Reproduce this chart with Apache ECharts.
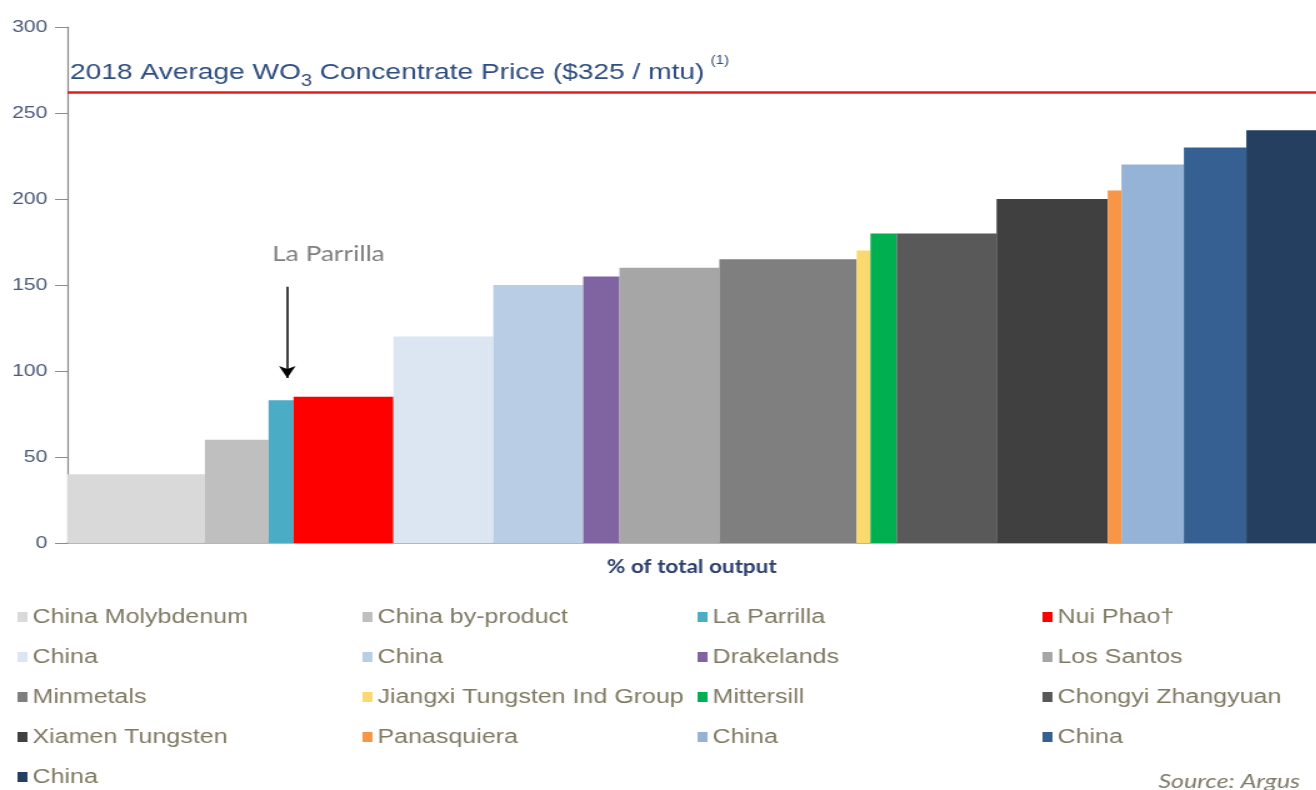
<!DOCTYPE html>
<html>
<head>
<meta charset="utf-8">
<script src="https://cdn.jsdelivr.net/npm/echarts@6/dist/echarts.min.js"></script>
<style>
  html, body { margin: 0; padding: 0; background: #ffffff; }
  #wrap { width: 1316px; height: 790px; overflow: hidden; background: #ffffff; }
  #chart { width: 1053px; height: 790px; transform: scaleX(1.25); transform-origin: 0 0; }
</style>
</head>
<body>
<div id="wrap"><div id="chart"></div></div>
<script>
// ---- data ----
const producers = [
  'China Molybdenum', 'China by-product', 'La Parrilla', 'Nui Phao\u2020',
  'China', 'China', 'Drakelands', 'Los Santos',
  'Minmetals', 'Jiangxi Tungsten Ind Group', 'Mittersill', 'Chongyi Zhangyuan',
  'Xiamen Tungsten', 'Panasquiera', 'China', 'China',
  'China'
];
// share of total output (% of x axis)
const outputShare = [11.0, 5.1, 2.0, 8.0, 8.0, 7.2, 2.9, 8.0, 11.0, 1.1, 2.1, 8.0, 8.9, 1.1, 5.0, 5.0, 5.6];
// cash cost (US$/mtu)
const costs = [40, 60, 83, 85, 120, 150, 155, 160, 165, 170, 180, 180, 200, 205, 220, 230, 240];
const colors = [
  '#d9d9d9', '#bfbfbf', '#4bacc6', '#ff0000',
  '#dce6f2', '#b9cde5', '#8064a2', '#a6a6a6',
  '#7f7f7f', '#fcd96e', '#00b050', '#595959',
  '#404040', '#f79646', '#95b3d7', '#366092',
  '#243f60'
];
const averagePrice = 262;           // red reference line (y value)
const yTicks = [0, 50, 100, 150, 200, 250, 300];
const annotation = { label: 'La Parrilla', textAt: [20.9, 168], arrowFrom: [17.6, 149], arrowTo: [17.6, 96] };

// ---- build series ----
const ids = producers.map((p, i) => p + '#' + i);
let cum = 0;
const series = producers.map((p, i) => {
  const start = cum;
  cum += outputShare[i];
  return {
    type: 'custom',
    name: ids[i],
    itemStyle: { color: colors[i] },
    encode: { x: [0, 1], y: 2 },
    data: [[start, cum, costs[i]]],
    renderItem: function (params, api) {
      const tl = api.coord([api.value(0), api.value(2)]);
      const br = api.coord([api.value(1), 0]);
      return {
        type: 'rect',
        shape: { x: tl[0], y: tl[1], width: br[0] - tl[0], height: br[1] - tl[1] },
        style: { fill: api.visual('color') }
      };
    }
  };
});

// helper series carrying annotations
series.push({
  type: 'line',
  name: 'annotations',
  data: [],
  silent: true,
  markLine: {
    silent: true,
    animation: false,
    symbol: ['none', 'none'],
    data: [
      { yAxis: averagePrice, lineStyle: { color: '#e31c1c', width: 2.5, type: 'solid' }, label: { show: false } },
      [
        { coord: annotation.arrowFrom, symbol: 'none', lineStyle: { color: '#000', width: 1.5, type: 'solid' }, label: { show: false } },
        { coord: annotation.arrowTo, symbol: 'arrow', symbolSize: [10, 12] }
      ]
    ]
  },
  markPoint: {
    silent: true,
    animation: false,
    data: [{
      coord: annotation.textAt,
      symbol: 'rect',
      symbolSize: 1,
      itemStyle: { color: 'rgba(0,0,0,0)' },
      label: { show: true, position: 'inside', formatter: annotation.label, color: '#7f7f7f', fontSize: 21, fontFamily: 'Lato' }
    }]
  }
});

// legend laid out in 4 columns, row-major order; the 5th row is its own legend
const legendLefts = [14, 290, 558, 834];
const legendBase = {
  top: 606,
  padding: 0,
  orient: 'vertical',
  icon: 'rect',
  itemWidth: 8,
  itemHeight: 10,
  itemGap: 18,
  selectedMode: false,
  formatter: n => n.replace(/#\d+$/, ''),
  textStyle: { fontSize: 20, color: '#7e7a64', fontFamily: 'Liberation Sans', lineHeight: 22, padding: [0, 0, 0, -1] }
};
const legends = [0, 1, 2, 3].map(c => Object.assign({}, legendBase, {
  data: ids.filter((_, i) => i % 4 === c && i < 16),
  left: legendLefts[c]
}));
legends.push(Object.assign({}, legendBase, {
  data: ids.filter((_, i) => i >= 16),
  left: legendLefts[0],
  top: 766
}));

const chart = echarts.init(document.getElementById('chart'));
chart.setOption({
  backgroundColor: '#ffffff',
  animation: false,
  title: [
    {
      text: '{a|2018 Average WO}{s|3}{a| Concentrate Price ($325 / mtu)}{p|(1)}',
      left: 56,
      top: 60,
      padding: 0,
      textStyle: {
        fontWeight: 'normal',
        rich: {
          a: { fontSize: 22.5, height: 26, lineHeight: 26, verticalAlign: 'top', color: '#2f4d7e', fontFamily: 'Liberation Sans', fontWeight: 'normal' },
          s: { fontSize: 16, height: 44, lineHeight: 44, verticalAlign: 'top', color: '#2f4d7e', fontFamily: 'Liberation Sans', fontWeight: 'normal' },
          p: { fontSize: 12, height: 2, lineHeight: 2, verticalAlign: 'top', color: '#2f4d7e', fontFamily: 'Liberation Sans', fontWeight: 'normal', padding: [0, 0, 0, 5] }
        }
      }
    },
    {
      text: 'Source: Argus',
      right: 13,
      top: 772,
      padding: 0,
      textStyle: { fontSize: 20, fontStyle: 'italic', fontWeight: 'normal', color: '#7f7b6a', fontFamily: 'Lato' }
    }
  ],
  legend: legends,
  grid: { left: 54, right: 0, top: 27, bottom: 247, containLabel: false },
  xAxis: {
    type: 'value',
    min: 0,
    max: 100,
    name: '% of total output',
    nameLocation: 'middle',
    nameGap: 15,
    nameTextStyle: { fontSize: 18, fontWeight: 'bold', color: '#2b3f6b', fontFamily: 'Lato', verticalAlign: 'top' },
    axisLine: { show: true, lineStyle: { color: '#a0a0a0', width: 1.5 } },
    axisTick: { show: false },
    axisLabel: { show: false },
    splitLine: { show: false }
  },
  yAxis: {
    type: 'value',
    min: yTicks[0],
    max: yTicks[yTicks.length - 1],
    interval: yTicks[1] - yTicks[0],
    axisLine: { show: true, lineStyle: { color: '#8c8c8c', width: 1.2 } },
    axisTick: { show: true, length: 10, lineStyle: { color: '#8c8c8c' } },
    axisLabel: { margin: 16, fontSize: 17, color: '#4b5a7a', fontFamily: 'Liberation Sans' },
    splitLine: { show: false }
  },
  series: series
});
</script>
</body>
</html>
